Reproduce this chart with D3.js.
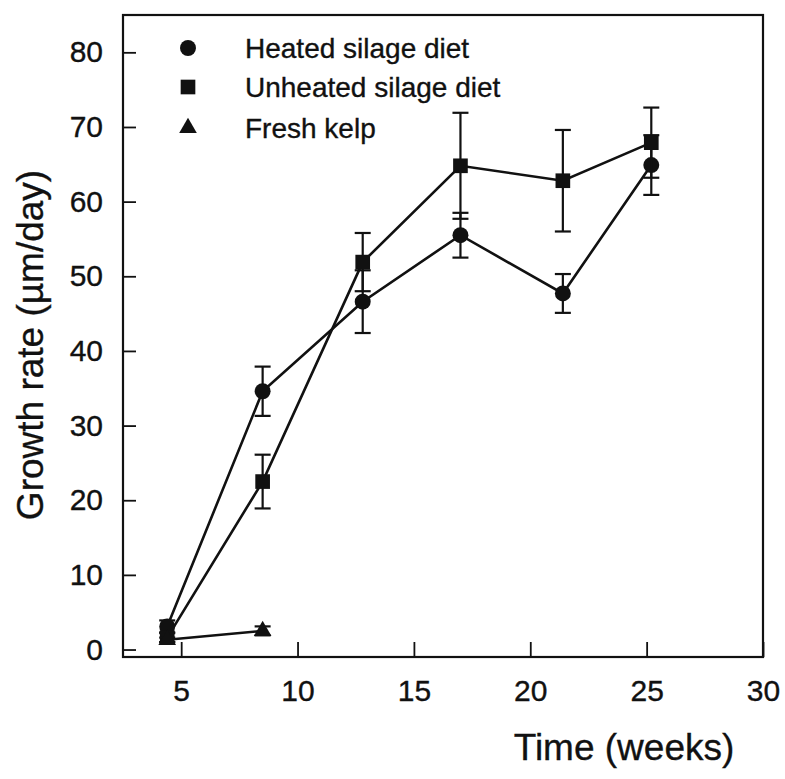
<!DOCTYPE html>
<html>
<head>
<meta charset="utf-8">
<script src="https://cdn.jsdelivr.net/npm/d3@7/dist/d3.min.js"></script>
<style>
  html, body { margin: 0; padding: 0; background: #fff; }
  svg text { font-family: "Liberation Sans", Arial, Helvetica, sans-serif; fill: #111; stroke: #111; stroke-width: 0.35px; }
</style>
</head>
<body>
<svg id="chart" width="785" height="779"></svg>
<script>
// Sampling times (weeks)
const weeks = [4.4, 8.5, 12.8, 17.0, 21.4, 25.2];
const kelpWeeks = [4.4, 8.5];

// Mean growth rate (µm/day) and error (±)
const heatedMean = [3.1, 34.6, 46.6, 55.5, 47.7, 64.9];
const heatedErr  = [0.8, 3.3, 4.2, 3.0, 2.6, 4.0];
const unheatedMean = [1.6, 22.5, 51.9, 64.8, 62.8, 67.9];
const unheatedErr  = [0.6, 3.6, 3.9, 7.1, 6.8, 4.7];
const kelpMean = [1.3, 2.5];
const kelpErr  = [0.3, 0.6];

const xTicks = [5, 10, 15, 20, 25, 30];
const yTicks = [0, 10, 20, 30, 40, 50, 60, 70, 80];

const seriesNames = ["Heated silage diet", "Unheated silage diet", "Fresh kelp"];

const svg = d3.select("#chart");
const plot = { left: 123, right: 763, top: 15, bottom: 657 };

const x = d3.scaleLinear().domain([2.5, 30]).range([plot.left, plot.right]);
const y = d3.scaleLinear().domain([-1, 85]).range([plot.bottom, plot.top]);

// Axes with inward ticks
const xAxis = svg.append("g")
  .attr("transform", `translate(0,${plot.bottom})`)
  .call(d3.axisBottom(x).tickValues(xTicks).tickSize(-15).tickPadding(23));
const yAxis = svg.append("g")
  .attr("transform", `translate(${plot.left},0)`)
  .call(d3.axisLeft(y).tickValues(yTicks).tickSize(-13).tickPadding(20));

[xAxis, yAxis].forEach(g => {
  g.select(".domain").remove();
  g.selectAll(".tick line").attr("stroke", "#111").attr("stroke-width", 1.8);
  g.selectAll(".tick text").attr("font-size", 30).attr("fill", "#111")
    .attr("font-family", "Liberation Sans, Arial, sans-serif");
});

// Frame
svg.append("rect")
  .attr("x", plot.left).attr("y", plot.top)
  .attr("width", plot.right - plot.left).attr("height", plot.bottom - plot.top)
  .attr("fill", "none").attr("stroke", "#111").attr("stroke-width", 2.2);

// Axis titles
svg.append("text")
  .attr("x", 624).attr("y", 760)
  .attr("text-anchor", "middle")
  .attr("font-size", 37)
  .text("Time (weeks)");

svg.append("text")
  .attr("transform", "translate(43,345) rotate(-90)")
  .attr("text-anchor", "middle")
  .attr("font-size", 37)
  .text("Growth rate (µm/day)");

const series = [
  { xs: weeks, mean: heatedMean, err: heatedErr, symbol: d3.symbolCircle, size: 200 },
  { xs: weeks, mean: unheatedMean, err: unheatedErr, symbol: d3.symbolSquare, size: 215 },
  { xs: kelpWeeks, mean: kelpMean, err: kelpErr, symbol: d3.symbolTriangle, size: 135 }
];

const line = d3.line().x(d => x(d[0])).y(d => y(d[1]));
const capHalf = 8;

series.forEach(s => {
  const pts = s.xs.map((w, i) => [w, s.mean[i], s.err[i]]);
  svg.append("path")
    .attr("d", line(pts))
    .attr("fill", "none").attr("stroke", "#111").attr("stroke-width", 2.6);

  const eb = svg.append("g").attr("stroke", "#111").attr("stroke-width", 2.2);
  pts.forEach(p => {
    const cx = x(p[0]), y1 = y(p[1] + p[2]), y2 = y(p[1] - p[2]);
    eb.append("line").attr("x1", cx).attr("x2", cx).attr("y1", y1).attr("y2", y2);
    eb.append("line").attr("x1", cx - capHalf).attr("x2", cx + capHalf).attr("y1", y1).attr("y2", y1);
    eb.append("line").attr("x1", cx - capHalf).attr("x2", cx + capHalf).attr("y1", y2).attr("y2", y2);
  });

  svg.append("g").selectAll("path")
    .data(pts).join("path")
    .attr("transform", p => `translate(${x(p[0])},${y(p[1])})`)
    .attr("d", d3.symbol().type(s.symbol).size(s.size))
    .attr("fill", "#111");
});

// Legend
const legend = svg.append("g");
const legendRows = [48, 87, 128];
series.forEach((s, i) => {
  legend.append("path")
    .attr("transform", `translate(188,${legendRows[i]})`)
    .attr("d", d3.symbol().type(s.symbol).size(s.size))
    .attr("fill", "#111");
  legend.append("text")
    .attr("x", 245).attr("y", legendRows[i] + 10)
    .attr("font-size", 28)
    .text(seriesNames[i]);
});
</script>
</body>
</html>
